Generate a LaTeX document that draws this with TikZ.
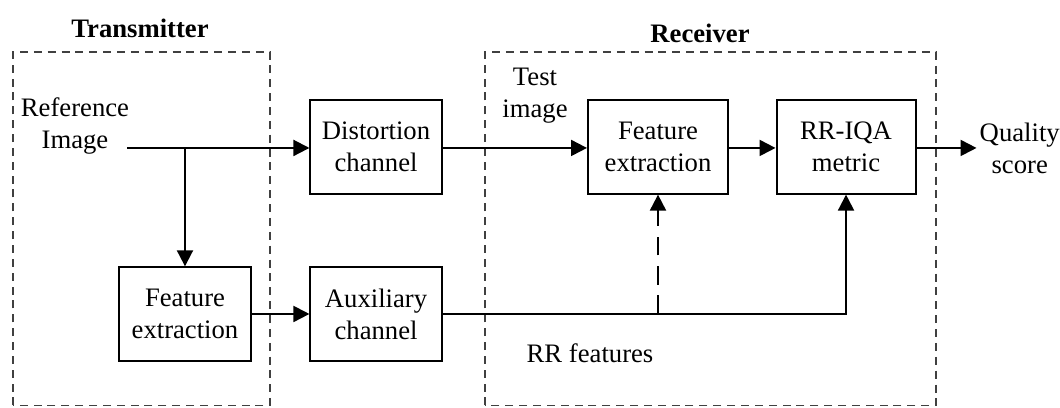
\documentclass[tikz,border=0pt]{standalone}
\usepackage{fontspec}
\setmainfont{Liberation Serif}
\usepackage{tikz}
\usetikzlibrary{arrows.meta}

\tikzset{
  block/.style={draw, line width=0.75pt, minimum width=1.73cm, minimum height=1.23cm, align=center, inner sep=1pt, font=\rmfamily},
  txt/.style={align=center, inner sep=1pt, font=\rmfamily},
  flow/.style={line width=0.75pt, -{Triangle[length=6pt, width=6pt]}},
  zone/.style={draw=black!75, line width=0.7pt, dash pattern=on 3pt off 2.2pt},
}

\begin{document}
\begin{tikzpicture}
  \useasboundingbox (0, 0) rectangle (13.97, 5.364);
  % dashed areas
  \draw[zone] (0.171, 0.02) rectangle (3.559, 4.679);
  \draw[zone] (6.392, 0.02) rectangle (12.336, 4.679);
  \node[txt, font=\bfseries] (txtitle) at (1.845, 4.995) {Transmitter};
  \node[txt, font=\bfseries] (rxtitle) at (9.226, 4.929) {Receiver};

  % blocks
  \node[txt] (ref) at (0.988, 3.704) {Reference\\Image};
  \node[block] (dist) at (4.956, 3.427) {Distortion\\channel};
  \node[block] (txfeat) at (2.438, 1.226) {Feature\\extraction};
  \node[block] (aux) at (4.956, 1.226) {Auxiliary\\channel};
  \node[block, minimum width=1.845cm] (rxfeat) at (8.672, 3.427) {Feature\\extraction};
  \node[block, minimum width=1.832cm] (metric) at (11.150, 3.427) {RR-IQA\\metric};
  \node[txt, anchor=west] (quality) at (12.87, 3.414) {Quality\\score};
  \node[txt] (test) at (7.051, 4.099) {Test\\image};
  \node[txt] (rrfeat) at (7.776, 0.712) {RR features};

  \coordinate (refout) at (1.674, 3.414);
  \coordinate (split) at (txfeat.north |- refout);
  \coordinate (tap) at (rxfeat.south |- aux.east);

  % connectors
  \draw[flow] (refout) -- (refout -| dist.west);
  \draw[flow] (split) -- (txfeat.north);
  \draw[flow] (txfeat.east) -- (aux.west);
  \draw[flow] (dist.east |- refout) -- (refout -| rxfeat.west);
  \draw[flow] (rxfeat.east |- refout) -- (refout -| metric.west);
  \draw[flow] (metric.east |- refout) -- (quality.west);
  \draw[flow] (aux.east) -| (metric.south);
  \draw[flow, dash pattern=on 7pt off 4pt] (tap) -- (rxfeat.south);
\end{tikzpicture}
\end{document}
